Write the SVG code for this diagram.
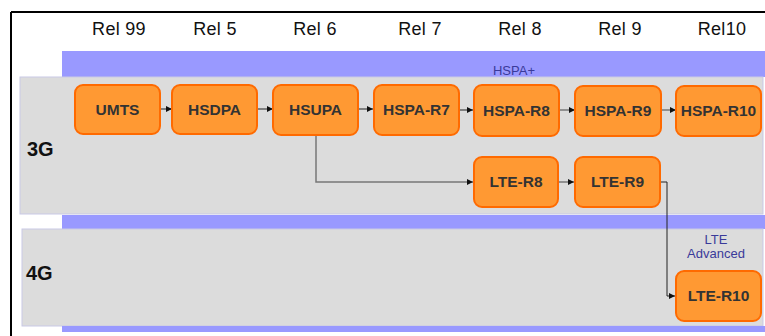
<svg xmlns="http://www.w3.org/2000/svg" width="765" height="336" viewBox="0 0 765 336">
  <style>
    .rel { font-family: "Liberation Sans", Arial, sans-serif; font-size: 18px; letter-spacing: 0.3px; fill: #111; text-anchor: middle; }
    .gen { font-family: "Liberation Sans", Arial, sans-serif; font-size: 20px; font-weight: bold; fill: #111; }
    .band-label { font-family: "Liberation Sans", Arial, sans-serif; font-size: 13px; fill: #3a3a9a; text-anchor: middle; }
    .node rect { fill: #FF9933; stroke: #FF6a00; stroke-width: 2; }
    .node text { font-family: "Liberation Sans", Arial, sans-serif; font-size: 15.5px; font-weight: bold; fill: #333; text-anchor: middle; }
    .band { fill: #9999FF; }
    .panel { fill: #DCDCDC; }
    .link { fill: none; stroke: #777; stroke-width: 1.5; marker-end: url(#arrow); }
    .link-dark { fill: none; stroke: #222; stroke-width: 1; marker-end: url(#arrow); }
  </style>
  <defs>
    <marker id="arrow" viewBox="0 0 10 10" refX="10" refY="5" markerWidth="6" markerHeight="6" markerUnits="userSpaceOnUse" orient="auto">
      <path d="M0,0 L10,5 L0,10 z" fill="#111"/>
    </marker>
  </defs>

  <!-- background and frame -->
  <rect x="0" y="0" width="765" height="336" fill="#fff"/>
  <line x1="11" y1="12" x2="765" y2="12" stroke="#000" stroke-width="2"/>
  <line x1="11" y1="12" x2="11" y2="336" stroke="#000" stroke-width="2"/>

  <!-- release headings -->
  <text class="rel" x="119" y="35">Rel 99</text>
  <text class="rel" x="215" y="35">Rel 5</text>
  <text class="rel" x="315" y="35">Rel 6</text>
  <text class="rel" x="420" y="35">Rel 7</text>
  <text class="rel" x="520" y="35">Rel 8</text>
  <text class="rel" x="620" y="35">Rel 9</text>
  <text class="rel" x="722" y="35">Rel10</text>

  <!-- bands and generation panels -->
  <rect class="band" x="62" y="51" width="703" height="26"/>
  <text class="band-label" x="514" y="75">HSPA+</text>
  <rect class="panel" x="20" y="77" width="743" height="137" stroke="#c9c9e6" stroke-width="1"/>
  <rect class="band" x="62" y="215" width="703" height="14"/>
  <rect class="panel" x="22" y="229" width="741" height="97" stroke="#c9c9e6" stroke-width="1"/>
  <rect class="band" x="62" y="326" width="703" height="6"/>

  <text class="gen" x="27" y="156">3G</text>
  <text class="gen" x="26" y="280">4G</text>
  <text class="band-label" x="716" y="244">LTE</text>
  <text class="band-label" x="716" y="258">Advanced</text>

  <!-- connectors -->
  <g id="connectors">
    <line class="link-dark" x1="161" y1="109" x2="172" y2="109"/>
    <line class="link-dark" x1="258" y1="109" x2="273" y2="109"/>
    <line class="link-dark" x1="359" y1="109" x2="373" y2="109"/>
    <line class="link-dark" x1="460" y1="110" x2="473" y2="110"/>
    <line class="link" x1="560" y1="110" x2="575" y2="110"/>
    <line class="link" x1="662" y1="110" x2="676" y2="110"/>
    <polyline class="link" points="316,136 316,182 473,182"/>
    <line class="link" x1="559" y1="182" x2="574" y2="182"/>
    <polyline class="link-dark" points="661,182 667,182 667,296 675,296"/>
  </g>

  <!-- nodes -->
  <g id="umts" class="node"><rect x="75" y="85" width="85" height="49" rx="8"/><text x="117.5" y="115">UMTS</text></g>
  <g id="hsdpa" class="node"><rect x="172" y="85" width="85" height="49" rx="8"/><text x="214.5" y="115">HSDPA</text></g>
  <g id="hsupa" class="node"><rect x="273" y="85" width="85" height="50" rx="8"/><text x="315.5" y="115">HSUPA</text></g>
  <g id="hspa-r7" class="node"><rect x="374" y="85" width="85" height="50" rx="8"/><text x="416.5" y="115">HSPA-R7</text></g>
  <g id="hspa-r8" class="node"><rect x="474" y="85" width="85" height="51" rx="8"/><text x="516.5" y="116">HSPA-R8</text></g>
  <g id="hspa-r9" class="node"><rect x="575" y="86" width="86" height="50" rx="8"/><text x="618" y="116">HSPA-R9</text></g>
  <g id="hspa-r10" class="node"><rect x="676" y="86" width="85" height="50" rx="8"/><text x="718.5" y="116">HSPA-R10</text></g>
  <g id="lte-r8" class="node"><rect x="474" y="157" width="84" height="50" rx="8"/><text x="516" y="187">LTE-R8</text></g>
  <g id="lte-r9" class="node"><rect x="575" y="157" width="85" height="50" rx="8"/><text x="617.5" y="187">LTE-R9</text></g>
  <g id="lte-r10" class="node"><rect x="676" y="271" width="85" height="50" rx="8"/><text x="718.5" y="301">LTE-R10</text></g>
</svg>
